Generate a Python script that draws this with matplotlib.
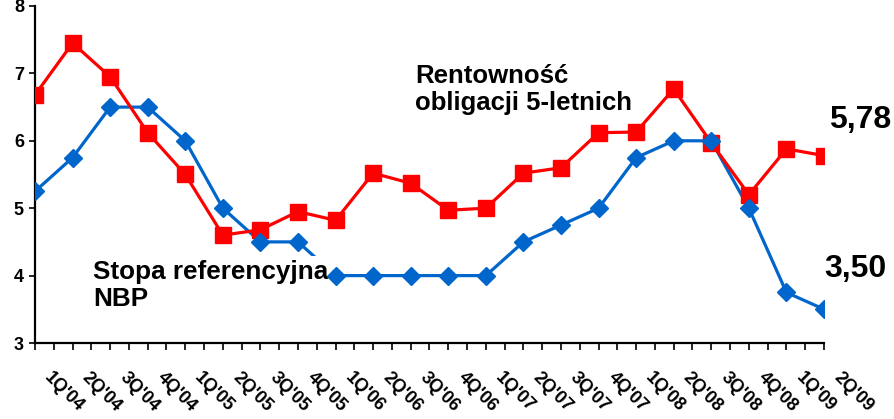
import matplotlib
matplotlib.use("Agg")
import matplotlib.pyplot as plt
import numpy as np

quarters = ["1Q'04", "2Q'04", "3Q'04", "4Q'04", "1Q'05", "2Q'05", "3Q'05", "4Q'05",
            "1Q'06", "2Q'06", "3Q'06", "4Q'06", "1Q'07", "2Q'07", "3Q'07", "4Q'07",
            "1Q'08", "2Q'08", "3Q'08", "4Q'08", "1Q'09", "2Q'09"]
rentownosc = [6.68, 7.45, 6.95, 6.12, 5.50, 4.60, 4.68, 4.95, 4.82, 5.52, 5.37, 4.97,
              5.00, 5.52, 5.60, 6.12, 6.13, 6.77, 5.97, 5.20, 5.88, 5.78]
stopa = [5.25, 5.75, 6.50, 6.50, 6.00, 5.00, 4.50, 4.50, 4.00, 4.00, 4.00, 4.00,
         4.00, 4.50, 4.75, 5.00, 5.75, 6.00, 6.00, 5.00, 3.75, 3.50]
y_ticks = [3, 4, 5, 6, 7, 8]

RED = "#FF0000"
BLUE = "#0066CC"
FONT = "Liberation Sans"
plt.rcParams['font.family'] = [FONT, 'DejaVu Sans']

fig = plt.figure(figsize=(8.95, 4.19), dpi=100)
ax = fig.add_axes([35/895, 76/419, 789/895, 337/419])

x = np.arange(len(quarters))
ax.plot(x, stopa, color=BLUE, lw=2.3, zorder=2)
ax.plot(x, stopa, color=BLUE, lw=0, marker='D', ms=9.5, zorder=5)
ax.plot(x, rentownosc, color=RED, lw=2.3, marker='s', ms=11, zorder=4)

ax.set_xlim(0, len(quarters) - 1)
ax.set_ylim(3, 8)
ax.set_yticks(y_ticks)
ax.set_yticklabels([str(v) for v in y_ticks], fontsize=13, fontweight='bold')
ax.set_xticks(x)
ax.set_xticks(np.arange(0.5, len(quarters) - 1, 1.0), minor=True)
ax.tick_params(axis='x', which='both', direction='out', length=5, width=1.2,
               labelbottom=False)
ax.tick_params(axis='y', direction='out', length=4, width=1.2, pad=4)

for xi, q in zip(x, quarters):
    ax.annotate(q, xy=(xi, 0), xycoords=('data', 'axes fraction'),
                xytext=(21.0, -35.5), textcoords='offset points',
                rotation=-45, rotation_mode='anchor', ha='center', va='center',
                fontsize=13, fontweight='bold', annotation_clip=False)

for s in ['top', 'right']:
    ax.spines[s].set_visible(False)
for s in ['left', 'bottom']:
    ax.spines[s].set_linewidth(1.6)

ax.text(0.0735, 0.247, "Stopa referencyjna\nNBP", transform=ax.transAxes,
        fontsize=18.8, fontweight='bold', ha='left', va='top', linespacing=1.15,
        zorder=3, bbox=dict(facecolor='white', edgecolor='none', pad=3))
ax.text(0.4816, 0.827, "Rentowność\nobligacji 5-letnich", transform=ax.transAxes,
        fontsize=18.5, fontweight='bold', ha='left', va='top', linespacing=1.15, zorder=3)
ax.text(1.006, 0.638, "5,78", transform=ax.transAxes, fontsize=23, fontweight='bold',
        ha='left', va='baseline', clip_on=False)
ax.text(1.0, 0.196, "3,50", transform=ax.transAxes, fontsize=23, fontweight='bold',
        ha='left', va='baseline', clip_on=False)

fig.savefig("out.png", dpi=100)
